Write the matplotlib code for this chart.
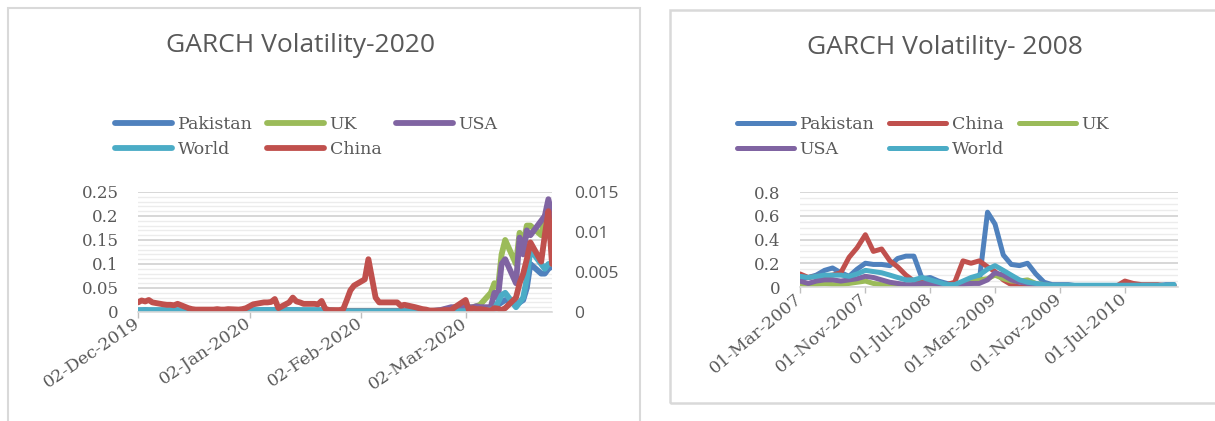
import numpy as np
import pandas as pd
import matplotlib
matplotlib.use('Agg')
import matplotlib.pyplot as plt
import matplotlib.dates as mdates
from matplotlib.patches import Rectangle
from matplotlib.ticker import MultipleLocator, FuncFormatter


# ---- 2020 panel: daily GARCH volatility on trading days ----
dates_2020 = pd.bdate_range('2019-12-02', '2020-03-26')

pakistan_2020 = [
    # Dec
    0.003, 0.003, 0.004, 0.003, 0.003, 0.003, 0.003, 0.003, 0.003, 0.003, 0.002,
    0.002, 0.002, 0.002, 0.002, 0.002, 0.002, 0.002, 0.002, 0.002, 0.002, 0.002,
    # Jan
    0.002, 0.003, 0.003, 0.004, 0.004, 0.004, 0.004, 0.003, 0.004, 0.004, 0.004, 0.003,
    0.003, 0.003, 0.003, 0.003, 0.003, 0.003, 0.002, 0.002, 0.002, 0.002, 0.002,
    # Feb
    0.002, 0.002, 0.002, 0.002, 0.002, 0.002, 0.002, 0.002, 0.002, 0.002,
    0.002, 0.002, 0.002, 0.002, 0.002, 0.003, 0.003, 0.003, 0.003, 0.003,
    # Mar
    0.003, 0.003, 0.004, 0.004, 0.004, 0.006, 0.008, 0.015, 0.020, 0.025,
    0.015, 0.020, 0.025, 0.050, 0.100, 0.080, 0.080, 0.090, 0.095,
]
uk_2020 = [
    0.002, 0.002, 0.002, 0.002, 0.002, 0.002, 0.002, 0.002, 0.002, 0.002, 0.002,
    0.002, 0.002, 0.002, 0.002, 0.002, 0.002, 0.002, 0.002, 0.002, 0.002, 0.002,
    0.002, 0.002, 0.002, 0.002, 0.002, 0.002, 0.002, 0.002, 0.002, 0.002, 0.002, 0.002,
    0.002, 0.002, 0.002, 0.002, 0.002, 0.002, 0.001, 0.001, 0.001, 0.001, 0.001,
    0.001, 0.001, 0.001, 0.001, 0.001, 0.001, 0.001, 0.001, 0.001, 0.001,
    0.001, 0.001, 0.001, 0.001, 0.001, 0.003, 0.005, 0.006, 0.008, 0.008,
    0.010, 0.008, 0.010, 0.012, 0.015, 0.040, 0.060, 0.050, 0.120, 0.150,
    0.100, 0.165, 0.140, 0.180, 0.180, 0.160, 0.200, 0.200, 0.170,
]
usa_2020 = [
    0.002, 0.002, 0.002, 0.002, 0.002, 0.002, 0.002, 0.002, 0.002, 0.002, 0.002,
    0.002, 0.002, 0.002, 0.002, 0.002, 0.002, 0.002, 0.002, 0.002, 0.002, 0.002,
    0.002, 0.002, 0.002, 0.002, 0.002, 0.002, 0.002, 0.002, 0.002, 0.002, 0.002, 0.002,
    0.002, 0.002, 0.002, 0.002, 0.002, 0.002, 0.001, 0.001, 0.001, 0.001, 0.001,
    0.001, 0.001, 0.001, 0.001, 0.001, 0.001, 0.001, 0.001, 0.001, 0.001,
    0.001, 0.001, 0.001, 0.001, 0.001, 0.004, 0.006, 0.008, 0.010, 0.010,
    0.012, 0.010, 0.010, 0.012, 0.010, 0.010, 0.040, 0.030, 0.100, 0.110,
    0.060, 0.155, 0.120, 0.170, 0.160, 0.190, 0.200, 0.235, 0.200,
]
world_2020 = [
    0.004, 0.004, 0.004, 0.004, 0.004, 0.004, 0.004, 0.004, 0.004, 0.004, 0.001,
    0.001, 0.001, 0.001, 0.001, 0.001, 0.001, 0.001, 0.001, 0.001, 0.001, 0.001,
    0.001, 0.002, 0.004, 0.004, 0.004, 0.004, 0.004, 0.004, 0.004, 0.004, 0.004, 0.004,
    0.004, 0.004, 0.004, 0.004, 0.004, 0.004, 0.001, 0.001, 0.001, 0.001, 0.001,
    0.001, 0.001, 0.001, 0.001, 0.001, 0.001, 0.001, 0.001, 0.001, 0.001,
    0.001, 0.001, 0.001, 0.001, 0.001, 0.001, 0.001, 0.001, 0.001, 0.001,
    0.002, 0.002, 0.003, 0.003, 0.003, 0.005, 0.006, 0.020, 0.035, 0.040,
    0.010, 0.020, 0.030, 0.070, 0.130, 0.100, 0.090, 0.100, 0.100,
]
china_2020 = [
    0.020, 0.024, 0.022, 0.025, 0.020, 0.016, 0.015, 0.015, 0.014, 0.017, 0.008,
    0.006, 0.005, 0.005, 0.005, 0.005, 0.006, 0.005, 0.005, 0.006, 0.005, 0.006,
    0.008, 0.012, 0.016, 0.020, 0.020, 0.021, 0.027, 0.008, 0.020, 0.030, 0.022, 0.020,
    0.017, 0.017, 0.016, 0.023, 0.007, 0.004, 0.004, 0.006, 0.025, 0.045, 0.055,
    0.068, 0.110, 0.070, 0.030, 0.020, 0.020, 0.020, 0.020, 0.013, 0.015,
    0.010, 0.008, 0.006, 0.005, 0.003, 0.003, 0.004, 0.004, 0.004, 0.010,
    0.025, 0.002, 0.008, 0.006, 0.006, 0.003, 0.008, 0.007, 0.004, 0.008,
    0.030, 0.060, 0.080, 0.110, 0.145, 0.105, 0.160, 0.210, 0.100,
]
ticks_2020 = ['2019-12-02', '2020-01-02', '2020-02-02', '2020-03-02']

# ---- 2008 panel: monthly GARCH volatility ----
dates_2008 = pd.date_range('2007-03-01', '2011-01-01', freq='MS')

pakistan_2008 = [0.08, 0.08, 0.10, 0.14, 0.16, 0.12, 0.09, 0.15, 0.20, 0.19,
                 0.19, 0.18, 0.24, 0.26, 0.26, 0.07, 0.08, 0.05, 0.03, 0.02,
                 0.03, 0.03, 0.05, 0.63, 0.53, 0.27, 0.19, 0.18, 0.20, 0.11,
                 0.04, 0.02, 0.02, 0.02, 0.01, 0.01, 0.01, 0.01, 0.01, 0.01,
                 0.01, 0.01, 0.01, 0.01, 0.01, 0.02, 0.02]
china_2008 = [0.11, 0.08, 0.09, 0.09, 0.10, 0.12, 0.25, 0.33, 0.44, 0.30,
              0.32, 0.22, 0.17, 0.10, 0.05, 0.04, 0.05, 0.03, 0.02, 0.04,
              0.22, 0.20, 0.22, 0.17, 0.13, 0.06, 0.02, 0.00, 0.00, 0.00,
              0.01, 0.01, 0.01, 0.01, 0.01, 0.01, 0.01, 0.01, 0.01, 0.01,
              0.05, 0.03, 0.02, 0.02, 0.02, 0.01, 0.01]
uk_2008 = [0.03, 0.01, 0.02, 0.03, 0.02, 0.02, 0.03, 0.04, 0.05, 0.03,
           0.02, 0.02, 0.01, 0.01, 0.01, 0.01, 0.01, 0.01, 0.01, 0.01,
           0.03, 0.05, 0.06, 0.07, 0.10, 0.07, 0.05, 0.05, 0.06, 0.03,
           0.02, 0.01, 0.01, 0.01, 0.01, 0.01, 0.01, 0.01, 0.01, 0.01,
           0.01, 0.01, 0.01, 0.01, 0.01, 0.01, 0.01]
usa_2008 = [0.05, 0.03, 0.05, 0.06, 0.06, 0.05, 0.06, 0.07, 0.09, 0.08,
            0.06, 0.04, 0.03, 0.02, 0.02, 0.03, 0.03, 0.02, 0.01, 0.01,
            0.02, 0.03, 0.03, 0.06, 0.12, 0.10, 0.06, 0.04, 0.03, 0.02,
            0.02, 0.01, 0.01, 0.01, 0.01, 0.01, 0.01, 0.01, 0.01, 0.01,
            0.01, 0.01, 0.01, 0.01, 0.01, 0.01, 0.01]
world_2008 = [0.09, 0.08, 0.09, 0.10, 0.10, 0.10, 0.09, 0.11, 0.14, 0.13,
              0.12, 0.10, 0.08, 0.06, 0.06, 0.08, 0.06, 0.04, 0.02, 0.02,
              0.05, 0.08, 0.10, 0.15, 0.18, 0.14, 0.10, 0.06, 0.04, 0.03,
              0.02, 0.015, 0.015, 0.015, 0.015, 0.015, 0.015, 0.015, 0.015, 0.015,
              0.015, 0.015, 0.015, 0.015, 0.015, 0.015, 0.02]
ticks_2008 = ['2007-03-01', '2007-11-01', '2008-07-01', '2009-03-01',
              '2009-11-01', '2010-07-01']

BLUE = '#4F81BD'
RED = '#C0504D'
GREEN = '#9BBB59'
PURPLE = '#8064A2'
AQUA = '#4BACC6'
GREY = '#595959'
W, H = 1215, 421

fig = plt.figure(figsize=(W / 100, H / 100), dpi=100)


def px_box(x0, y0, x1, y1):
    # pixel box (top-left origin) -> figure fraction rect
    return [x0 / W, 1 - y1 / H, (x1 - x0) / W, (y1 - y0) / H]


def style_axes(ax, minor):
    for s in ['top', 'right', 'left']:
        ax.spines[s].set_visible(False)
    ax.spines['bottom'].set_color('#d9d9d9')
    ax.spines['bottom'].set_linewidth(1.2)
    ax.yaxis.set_minor_locator(MultipleLocator(minor))
    ax.grid(axis='y', which='major', color='#d4d4d4', linewidth=1.3)
    ax.grid(axis='y', which='minor', color='#ececec', linewidth=1.0)
    ax.set_axisbelow(True)
    ax.tick_params(axis='y', which='both', length=0, pad=14, labelsize=12,
                   labelcolor=GREY)
    ax.tick_params(axis='x', length=4, color='#bfbfbf', width=1, pad=3,
                   labelsize=12.5, labelcolor=GREY)
    ax.yaxis.set_major_formatter(FuncFormatter(lambda v, p: '%g' % round(v, 4)))
    for t in ax.get_yticklabels():
        t.set_fontfamily('DejaVu Serif')
    ax.xaxis.set_major_formatter(mdates.DateFormatter('%d-%b-%Y'))


def date_labels(ax, ticks, angle):
    ax.set_xticks(pd.to_datetime(ticks))
    for t in ax.get_xticklabels():
        t.set_rotation(angle)
        t.set_ha('right')
        t.set_va('center')
        t.set_rotation_mode('anchor')
        t.set_fontfamily('DejaVu Serif')


def add_legend(handles, labels, x):
    fig.legend(handles, labels, loc='upper left', bbox_to_anchor=(x / W, 1 - 116 / H),
               ncol=3, frameon=False, borderpad=0, borderaxespad=0, handlelength=3.3,
               handletextpad=0.3, columnspacing=0.85, labelspacing=0.45,
               prop={'family': 'DejaVu Serif', 'size': 12.5}, labelcolor=GREY)


# panel frames
fig.add_artist(Rectangle((8 / W, -0.02), 632 / W, 1.02 - 8 / H, transform=fig.transFigure,
                         fill=False, edgecolor='#d9d9d9', linewidth=1.5))
fig.add_artist(Rectangle((670 / W, 1 - 403 / H), 0.5, (403 - 10) / H, transform=fig.transFigure,
                         fill=False, edgecolor='#d9d9d9', linewidth=1.8))

# left chart
ax1 = fig.add_axes(px_box(138, 192, 552, 312))
lw1 = 4.2
line_kw = dict(solid_capstyle='round', solid_joinstyle='round')
l_pak, = ax1.plot(dates_2020, pakistan_2020, color=BLUE, lw=lw1, label='Pakistan', **line_kw)
l_uk, = ax1.plot(dates_2020, uk_2020, color=GREEN, lw=lw1, label='UK', **line_kw)
l_usa, = ax1.plot(dates_2020, usa_2020, color=PURPLE, lw=lw1, label='USA', **line_kw)
l_wld, = ax1.plot(dates_2020, world_2020, color=AQUA, lw=lw1, label='World', **line_kw)
l_chn, = ax1.plot(dates_2020, china_2020, color=RED, lw=lw1, label='China', **line_kw)
ax1.set_ylim(0, 0.25)
ax1.set_yticks(np.arange(0, 0.2501, 0.05))
ax1.set_xlim(dates_2020[0], dates_2020[-1])
style_axes(ax1, 0.01)
date_labels(ax1, ticks_2020, 34)

# secondary scale on the right
ax1r = ax1.twinx()
ax1r.set_ylim(0, 0.015)
ax1r.set_yticks([0, 0.005, 0.01, 0.015])
ax1r.set_yticklabels(['0', '0.005', '0.01', '0.015'], fontfamily='Open Sans')
for s in ax1r.spines.values():
    s.set_visible(False)
ax1r.tick_params(axis='y', length=0, pad=16, labelsize=12.5, labelcolor=GREY)

fig.text(301 / W, 1 - 45 / H, 'GARCH Volatility-2020', ha='center', va='center',
         fontsize=19, color=GREY, family='Open Sans')
# legend handles are column-major, so this gives rows Pakistan/UK/USA and World/China
add_legend([l_pak, l_wld, l_uk, l_chn, l_usa], ['Pakistan', 'World', 'UK', 'China', 'USA'], 115)

# right chart
ax2 = fig.add_axes(px_box(800, 192, 1178, 287))
lw2 = 3.6
r_pak, = ax2.plot(dates_2008, pakistan_2008, color=BLUE, lw=lw2, label='Pakistan', **line_kw)
r_chn, = ax2.plot(dates_2008, china_2008, color=RED, lw=lw2, label='China', **line_kw)
r_uk, = ax2.plot(dates_2008, uk_2008, color=GREEN, lw=lw2, label='UK', **line_kw)
r_usa, = ax2.plot(dates_2008, usa_2008, color=PURPLE, lw=lw2, label='USA', **line_kw)
r_wld, = ax2.plot(dates_2008, world_2008, color=AQUA, lw=lw2, label='World', **line_kw)
ax2.set_ylim(0, 0.8)
ax2.set_yticks(np.arange(0, 0.801, 0.2))
ax2.set_xlim(dates_2008[0], pd.Timestamp('2011-01-16'))
style_axes(ax2, 0.05)
date_labels(ax2, ticks_2008, 40)

fig.text(945 / W, 1 - 47 / H, 'GARCH Volatility- 2008', ha='center', va='center',
         fontsize=19, color=GREY, family='Open Sans')
add_legend([r_pak, r_usa, r_chn, r_wld, r_uk], ['Pakistan', 'USA', 'China', 'World', 'UK'], 737)

fig.savefig('out.png', dpi=100)
